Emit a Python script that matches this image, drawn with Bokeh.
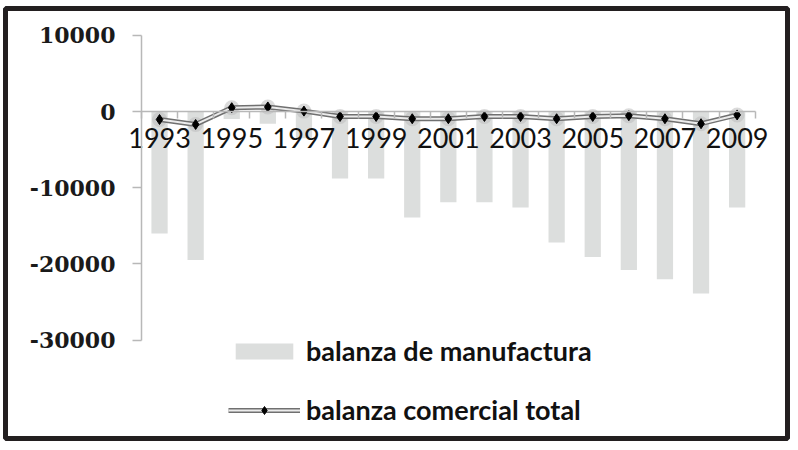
from bokeh.plotting import figure
from bokeh.models import (Range1d, LinearAxis, FixedTicker, ColumnDataSource,
                          Legend, LegendItem)
from bokeh.embed import file_html
from bokeh.resources import INLINE

years = list(range(1993, 2010))
manufactura = [-16000, -19500, -1000, -1600, -3500, -8800, -8800, -13900, -11900,
               -11900, -12600, -17200, -19100, -20800, -22000, -23900, -12600]
total = [-1050, -1700, 500, 600, 50, -650, -650, -950, -950,
         -650, -650, -950, -650, -550, -950, -1600, -450]
x_tick_years = [1993, 1995, 1997, 1999, 2001, 2003, 2005, 2007, 2009]
y_ticks = [-30000, -20000, -10000, 0, 10000]
label_bars = "balanza de manufactura"
label_line = "balanza comercial total"

src = ColumnDataSource(dict(x=years, m=manufactura, t=total))

p = figure(width=790, height=442, output_backend="svg", toolbar_location=None,
           x_range=Range1d(1988.733, 2010.395), y_range=Range1d(-42913, 13517),
           x_axis_location=None, y_axis_location=None,
           min_border_left=5, min_border_right=3, min_border_top=8, min_border_bottom=4)
p.grid.visible = False
p.background_fill_color = "white"
p.border_fill_color = "white"
p.outline_line_color = "#231f20"
p.outline_line_width = 5

bars = p.vbar(x="x", top="m", bottom=0, width=0.45, source=src,
              fill_color="#dcdedd", line_color=None)

halo = p.scatter(x="x", y="t", source=src, marker="circle", size=15,
                 fill_color="#bdbdbd", fill_alpha=0.55, line_color=None)
outer = p.line(x="x", y="t", source=src, line_color="#707070", line_width=5)
inner = p.line(x="x", y="t", source=src, line_color="#ececec", line_width=2)
marks = p.scatter(x="x", y="t", source=src, marker="diamond", size=10,
                  fill_color="black", line_color="black")

# x axis at y = 0
xaxis = LinearAxis(fixed_location=0, bounds=(1992.5, 2009.5))
xaxis.ticker = FixedTicker(ticks=x_tick_years,
                           minor_ticks=[y - 0.5 for y in years] + [2009.5])
xaxis.axis_line_color = "#b8b8b8"
xaxis.axis_line_width = 1.5
xaxis.major_tick_line_color = None
xaxis.major_tick_out = 0
xaxis.major_tick_in = 0
xaxis.minor_tick_line_color = "#b8b8b8"
xaxis.minor_tick_line_width = 1.5
xaxis.minor_tick_out = 7
xaxis.minor_tick_in = 0
xaxis.major_label_text_font = "Lato"
xaxis.major_label_text_font_size = "27px"
xaxis.major_label_text_color = "#111111"
xaxis.major_label_standoff = 9
p.add_layout(xaxis, "below")

# y axis at left of first category
yaxis = LinearAxis(fixed_location=1992.5, bounds=(-30000, 10000))
yaxis.ticker = FixedTicker(ticks=y_ticks, minor_ticks=[])
yaxis.major_label_overrides = {v: str(v) for v in y_ticks}
yaxis.axis_line_color = "#b8b8b8"
yaxis.axis_line_width = 1.5
yaxis.major_tick_line_color = "#b8b8b8"
yaxis.major_tick_line_width = 1.5
yaxis.major_tick_out = 9
yaxis.major_tick_in = 0
yaxis.major_label_text_font = "DejaVu Serif"
yaxis.major_label_text_font_style = "bold"
yaxis.major_label_text_font_size = "22px"
yaxis.major_label_text_color = "#1a1a1a"
yaxis.major_label_standoff = 17
p.add_layout(yaxis, "left")

legend = Legend(items=[LegendItem(label=label_bars, renderers=[bars]),
                       LegendItem(label=label_line, renderers=[outer, inner, marks])],
                location=(223, 12), orientation="vertical",
                glyph_width=72, glyph_height=20, label_height=20, spacing=26,
                label_standoff=6, padding=0, margin=0,
                border_line_color=None, background_fill_alpha=0,
                label_text_font="Lato", label_text_font_style="bold",
                label_text_font_size="27px", label_text_color="#111111")
p.add_layout(legend, "center")

open("out.html", "w").write(file_html(p, INLINE))
